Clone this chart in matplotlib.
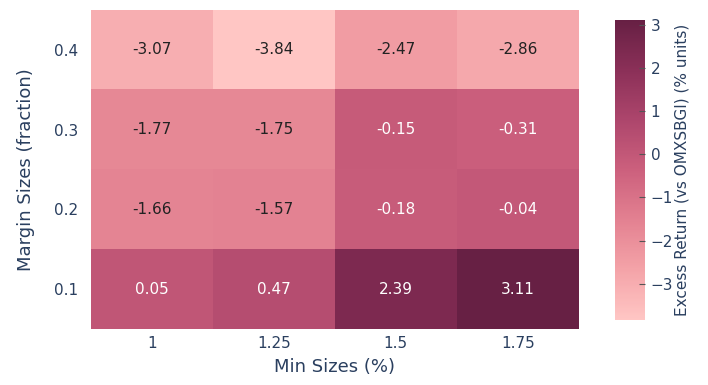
import numpy as np
import matplotlib.pyplot as plt
from matplotlib.colors import LinearSegmentedColormap, Normalize

plt.rcParams['font.family'] = ['DejaVu Sans']

# grid of backtest results
min_sizes = ['1', '1.25', '1.5', '1.75']
margin_sizes = ['0.1', '0.2', '0.3', '0.4']
excess_return = np.array([
    [0.05, 0.47, 2.39, 3.11],
    [-1.66, -1.57, -0.18, -0.04],
    [-1.77, -1.75, -0.15, -0.31],
    [-3.07, -3.84, -2.47, -2.86],
])

burg = ['#ffc6c4', '#f4a3a8', '#e38191', '#cc607d', '#ad466c', '#8b3058', '#672044']
cmap = LinearSegmentedColormap.from_list('burg', burg)
norm = Normalize(vmin=excess_return.min(), vmax=excess_return.max())
text_col = '#2a3f5f'
fs = 11

fig = plt.figure(figsize=(7.08, 3.85), dpi=100)
ax = fig.add_axes([0.1285, 0.145, 0.689, 0.829])
im = ax.imshow(excess_return, cmap=cmap, norm=norm, origin='lower',
               aspect='auto', interpolation='nearest')

for i in range(len(margin_sizes)):
    for j in range(len(min_sizes)):
        v = excess_return[i, j]
        r, g, b, _ = cmap(norm(v))
        lum = 0.299 * r + 0.587 * g + 0.114 * b
        ax.text(j, i, f'{v:.2f}', ha='center', va='center', fontsize=fs,
                color='white' if lum < 0.58 else '#222222')

ax.set_xticks(range(len(min_sizes)))
ax.set_xticklabels(min_sizes)
ax.set_yticks(range(len(margin_sizes)))
ax.set_yticklabels(margin_sizes)
ax.tick_params(length=0, labelsize=fs, labelcolor=text_col)
ax.tick_params(axis='y', pad=9)
ax.tick_params(axis='x', pad=5)
for s in ax.spines.values():
    s.set_visible(False)
ax.set_xlabel('Min Sizes (%)', fontsize=13, color=text_col, labelpad=5)
ax.set_ylabel('Margin Sizes (fraction)', fontsize=13, color=text_col, labelpad=14)

cax = fig.add_axes([0.8686, 0.169, 0.0424, 0.779])
cb = fig.colorbar(im, cax=cax)
cb.outline.set_visible(False)
cb.set_ticks([-3, -2, -1, 0, 1, 2, 3])
cb.ax.tick_params(direction='in', length=4, width=0.8, color='#555555',
                  labelsize=fs, labelcolor=text_col, pad=4)
cb.set_label('Excess Return (vs OMXSBGI) (% units)', fontsize=fs,
             color=text_col, labelpad=1)

fig.savefig('out.png', dpi=100)
